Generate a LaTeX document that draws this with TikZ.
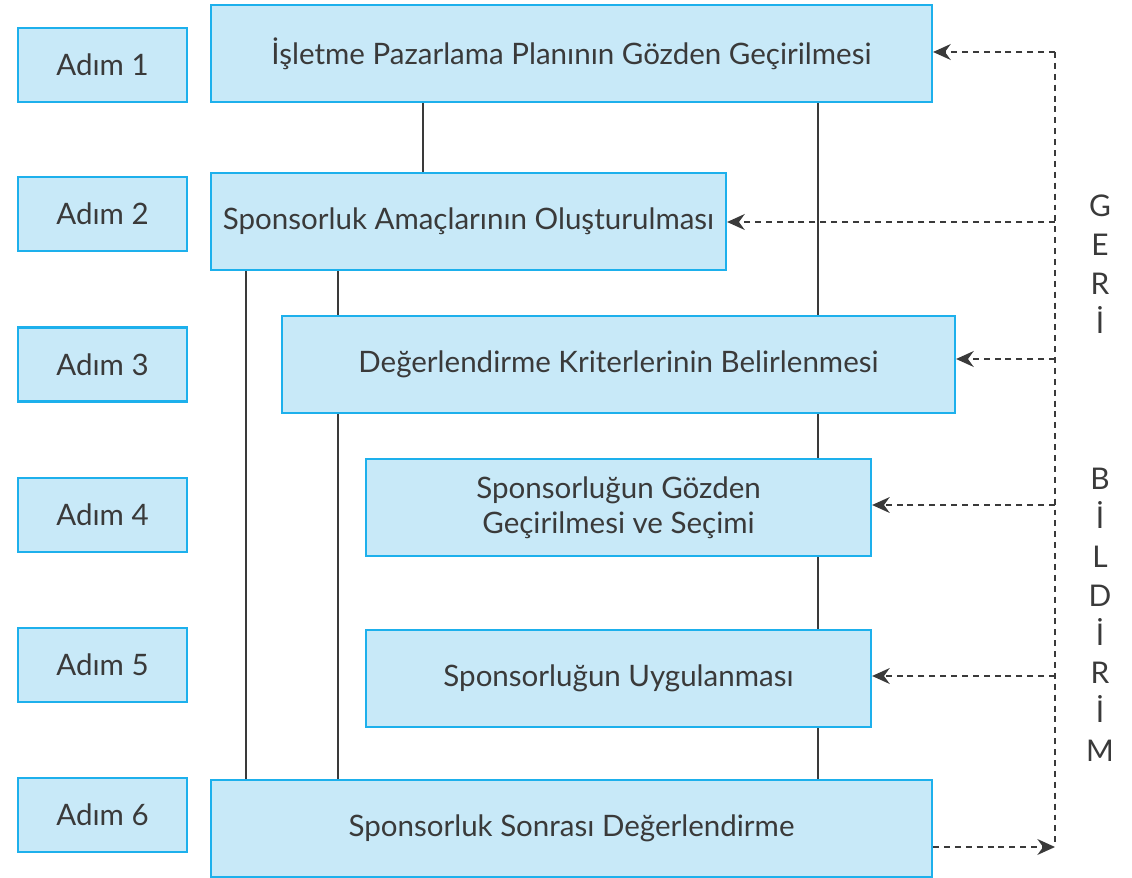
\documentclass[tikz,border=0pt]{standalone}
\usepackage{fontspec}
\setmainfont{Lato}
\usetikzlibrary{arrows.meta}
\definecolor{boxfill}{HTML}{C8E9F8}
\definecolor{boxline}{HTML}{1DB0EC}
\definecolor{inkgray}{HTML}{3A3A3A}
\newcommand{\stepw}{3.38cm}
\newcommand{\steph}{1.48cm}
\newcommand{\mainh}{1.94cm}
\newcommand{\fbx}{1055}
\tikzset{
  box/.style={draw=boxline,fill=boxfill,line width=1.3pt,
    minimum height=\mainh,inner sep=0pt,text=inkgray,
    font=\fontsize{16.8}{20}\selectfont,align=center},
  stepbox/.style={box,minimum width=\stepw,minimum height=\steph},
  link/.style={draw=inkgray,line width=1.4pt},
  fbline/.style={draw=inkgray,line width=1.3pt,dash pattern=on 3.4pt off 2.8pt},
  fbarrow/.style={fbline,-{Stealth[length=10pt,width=9pt]}},
  fbword/.style={text=inkgray,align=center,
    font=\fontsize{17}{22.1}\selectfont}
}
\begin{document}
\begin{tikzpicture}[x=0.02cm,y=-0.02cm]
  \useasboundingbox (0,0) rectangle (1132,878);

  % adim kutulari
  \node[stepbox] (s1) at (102.5,65) {Adım 1};
  \node[stepbox] (s2) at (102.5,214) {Adım 2};
  \node[stepbox] (s3) at (102.5,364.5) {Adım 3};
  \node[stepbox] (s4) at (102.5,515) {Adım 4};
  \node[stepbox] (s5) at (102.5,665) {Adım 5};
  \node[stepbox] (s6) at (102.5,815) {Adım 6};

  % ana kutular
  \node[box,minimum width=14.42cm] (b1) at (571.5,53.5)
    {İşletme Pazarlama Planının Gözden Geçirilmesi};
  \node[box,minimum width=10.30cm] (b2) at (468.5,221.5)
    {Sponsorluk Amaçlarının Oluşturulması};
  \node[box,minimum width=13.46cm] (b3) at (618.5,364.5)
    {Değerlendirme Kriterlerinin Belirlenmesi};
  \node[box,minimum width=10.10cm] (b4) at (618.5,507.5)
    {Sponsorluğun Gözden\\Geçirilmesi ve Seçimi};
  \node[box,minimum width=10.10cm] (b5) at (618.5,678.5)
    {Sponsorluğun Uygulanması};
  \node[box,minimum width=14.42cm] (b6) at (571.5,828.5)
    {Sponsorluk Sonrası Değerlendirme};

  % dikey baglantilar
  \coordinate (colA) at (246,0);
  \coordinate (colB) at (338,0);
  \coordinate (colC) at (423,0);
  \coordinate (colD) at (818,0);
  \draw[link] (b1.south -| colC) -- (b2.north -| colC);
  \draw[link] (b1.south -| colD) -- (b3.north -| colD);
  \draw[link] (b3.south -| colD) -- (b4.north -| colD);
  \draw[link] (b4.south -| colD) -- (b5.north -| colD);
  \draw[link] (b5.south -| colD) -- (b6.north -| colD);
  \draw[link] (b2.south -| colA) -- (b6.north -| colA);
  \draw[link] (b2.south -| colB) -- (b3.north -| colB);
  \draw[link] (b3.south -| colB) -- (b6.north -| colB);

  % geri bildirim
  \coordinate (fb1) at (\fbx,52);
  \coordinate (fb2) at (\fbx,222);
  \coordinate (fb3) at (\fbx,359);
  \coordinate (fb4) at (\fbx,505);
  \coordinate (fb5) at (\fbx,676);
  \coordinate (fb6) at (\fbx,847);
  \draw[fbline] (fb1) -- (fb6);
  \draw[fbarrow] (fb1) -- (fb1 -| b1.east);
  \draw[fbarrow] (fb2) -- (fb2 -| b2.east);
  \draw[fbarrow] (fb3) -- (fb3 -| b3.east);
  \draw[fbarrow] (fb4) -- (fb4 -| b4.east);
  \draw[fbarrow] (fb5) -- (fb5 -| b5.east);
  \draw[fbarrow] (fb6 -| b6.east) -- (fb6);

  \node[fbword] (geri) at (1100,264) {G\\E\\R\\İ};
  \node[fbword] (bildirim) at (1100,615) {B\\İ\\L\\D\\İ\\R\\İ\\M};
\end{tikzpicture}
\end{document}
